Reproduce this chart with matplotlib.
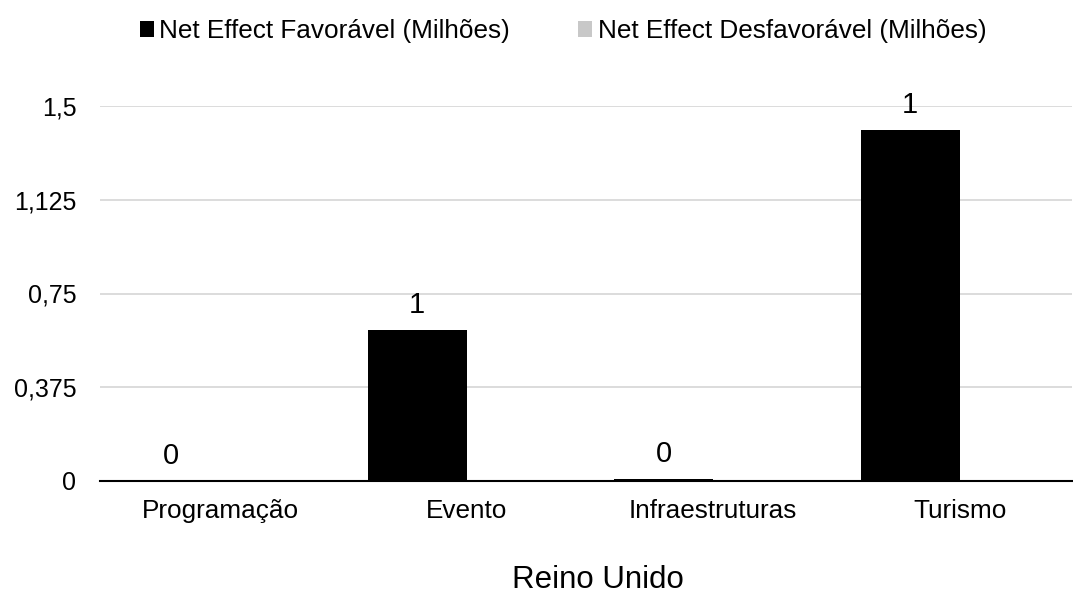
import matplotlib
matplotlib.use("Agg")
import matplotlib.pyplot as plt
import numpy as np

plt.rcParams['font.family'] = ['Liberation Sans', 'DejaVu Sans']

categories = ["Programação", "Evento", "Infraestruturas", "Turismo"]
favoravel = [0.0, 0.604, 0.009, 1.404]
desfavoravel = [0.0, 0.0, 0.0, 0.0]
yticks = [0, 0.375, 0.75, 1.125, 1.5]
ytick_labels = ["0", "0,375", "0,75", "1,125", "1,5"]

fig = plt.figure(figsize=(10.73, 5.95), dpi=100)
ax = fig.add_axes([100/1073, 1-481/595, 972/1073, 375/595])

x = np.arange(len(categories))
w = 0.4
b1 = ax.bar(x - w/2, favoravel, w, color="#000000", label="Net Effect Favorável (Milhões)", zorder=3)
b2 = ax.bar(x + w/2, desfavoravel, w, color="#c8c8c8", label="Net Effect Desfavorável (Milhões)", zorder=3)

for rect, v in zip(b1, favoravel):
    ax.annotate(f"{v:.0f}", (rect.get_x() + rect.get_width()/2, rect.get_height()),
                xytext=(0, 8), textcoords="offset points", ha="center", va="bottom",
                fontsize=21, color="#000000")

ax.set_xlim(-0.487, 3.456)
ax.set_ylim(0, 1.5)
ax.set_yticks(yticks)
ax.set_yticklabels(ytick_labels)
ax.set_xticks(x)
ax.set_xticklabels(categories)
ax.tick_params(axis="both", length=0, colors="#000000")
ax.tick_params(axis="y", pad=17, labelsize=18)
ax.tick_params(axis="x", pad=13, labelsize=18.8)
ax.yaxis.grid(True, color="#d6d6d6", linewidth=1.2, zorder=0)
ax.set_axisbelow(True)
for s in ["top", "right", "left"]:
    ax.spines[s].set_visible(False)
ax.spines["bottom"].set_color("#000000")
ax.spines["bottom"].set_linewidth(1.5)
ax.spines["bottom"].set_zorder(2)

ax.set_xlabel("Reino Unido", fontsize=22.5, labelpad=30)
ax.xaxis.label.set_x(0.512)

leg = fig.legend(handles=[b1, b2], loc="center", bbox_to_anchor=(563/1073, 1-31/595), ncol=2,
                 frameon=False, fontsize=18.8, handlelength=0.55, handleheight=0.55,
                 handletextpad=0.2, columnspacing=2.6, borderaxespad=0, borderpad=0)

fig.savefig("out.png", dpi=100)
